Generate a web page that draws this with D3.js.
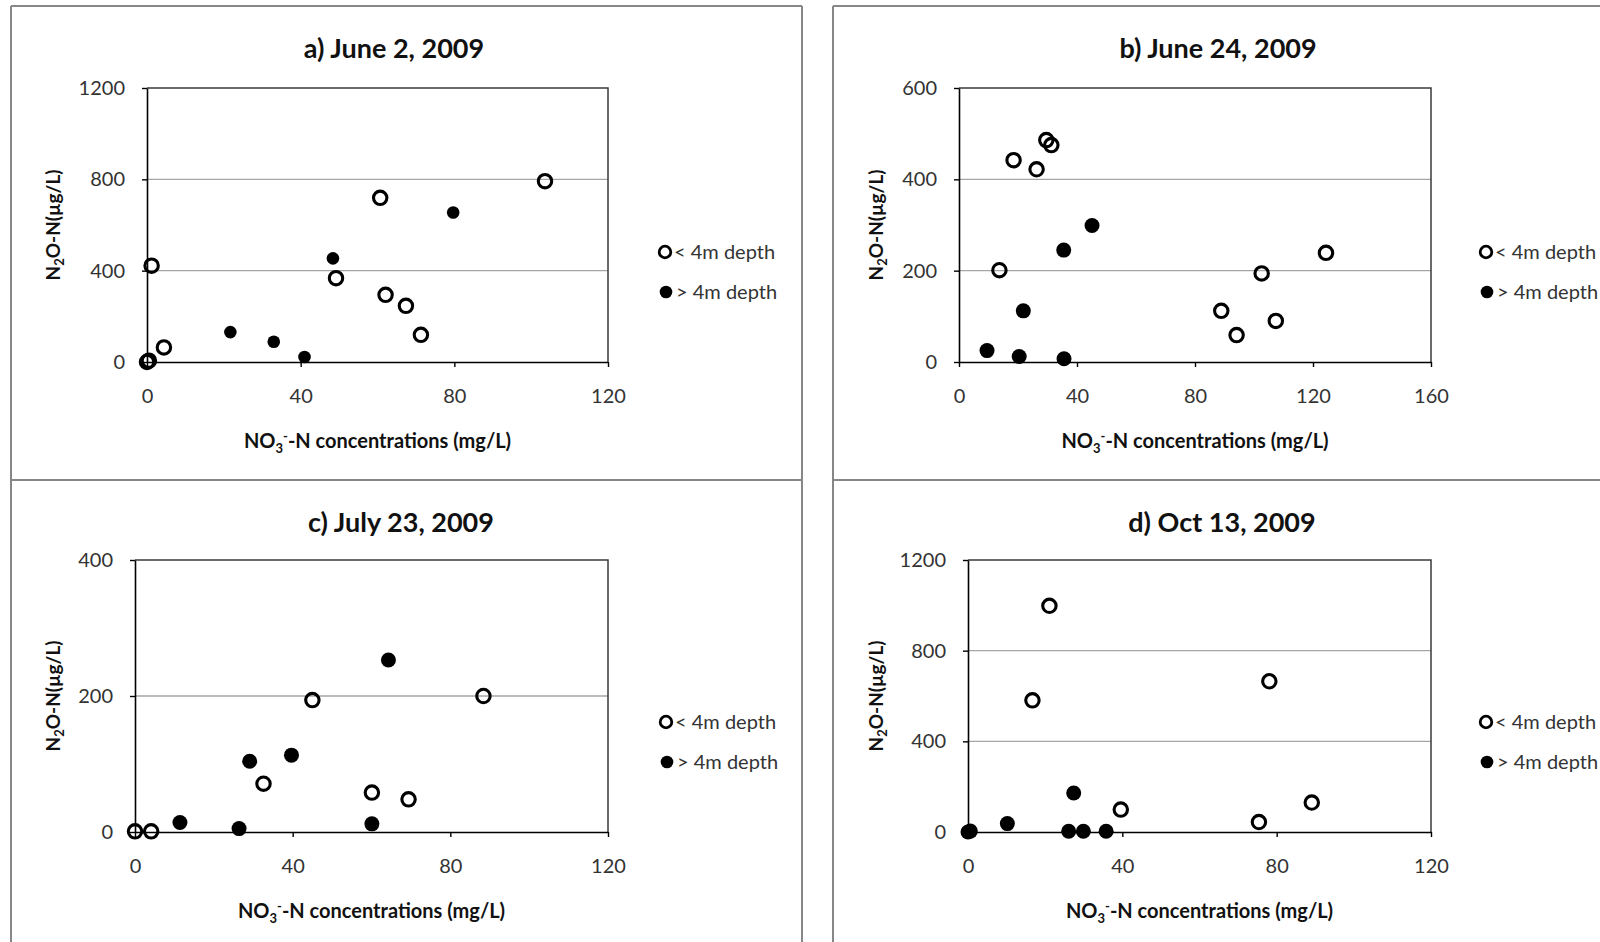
<!DOCTYPE html>
<html>
<head>
<meta charset="utf-8">
<script src="https://cdn.jsdelivr.net/npm/d3@7"></script>
<style>
  body { margin: 0; background: #fff; }
  svg { display: block; font-family: Lato, "Liberation Sans", sans-serif; }
</style>
</head>
<body>
<svg id="chart" width="1600" height="942"></svg>
<script>
// Sampling-date titles and legend entries
const titles = ["a) June 2, 2009", "b) June 24, 2009", "c) July 23, 2009", "d) Oct 13, 2009"];
const seriesNames = ["< 4m depth", "> 4m depth"];

// Axis ticks per panel
const xTicksA = [0, 40, 80, 120];
const yTicksA = [0, 400, 800, 1200];
const xTicksB = [0, 40, 80, 120, 160];
const yTicksB = [0, 200, 400, 600];
const xTicksC = [0, 40, 80, 120];
const yTicksC = [0, 200, 400];
const xTicksD = [0, 40, 80, 120];
const yTicksD = [0, 400, 800, 1200];

// [NO3-N (mg/L), N2O-N (µg/L)] — shallow wells (< 4 m) and deep wells (> 4 m)
const shallowA = [[0, 0], [0.5, 6], [1.2, 422], [4.4, 64], [49.2, 367], [60.7, 719], [62.1, 294], [67.4, 246], [71.3, 119], [103.6, 792]];
const deepA = [[21.7, 131], [33.0, 89], [41.0, 22], [48.4, 454], [79.7, 655]];

const shallowB = [[13.7, 201], [18.5, 442], [26.3, 422], [29.6, 486], [31.3, 475], [88.9, 112], [94.1, 59], [102.6, 194], [107.4, 90], [124.4, 239]];
const deepB = [[9.5, 25], [20.4, 12], [21.8, 112], [35.5, 245], [35.6, 7], [45.1, 299]];

const shallowC = [[0, 1], [4.1, 1], [32.6, 71], [45.0, 194], [60.1, 58], [69.4, 48], [88.4, 200]];
const deepC = [[11.4, 14], [26.4, 5], [29.1, 104], [39.7, 113], [60.1, 12], [64.3, 253]];

const shallowD = [[16.7, 581], [21.1, 998], [39.6, 99], [75.4, 44], [78.1, 665], [89.1, 130]];
const deepD = [[0, 0], [0.6, 4], [10.2, 37], [26.1, 3], [27.4, 172], [29.9, 3], [35.8, 3]];

// Panel geometry
const panels = [
  { title: titles[0], shallow: shallowA, deep: deepA, xTicks: xTicksA, yTicks: yTicksA,
    plot: { x0: 147, x1: 608, y0: 88, y1: 362 }, titleX: 394, titleY: 58, yTitleX: 53, legendX: 665, legendY: 252, deepR: 6.3 },
  { title: titles[1], shallow: shallowB, deep: deepB, xTicks: xTicksB, yTicks: yTicksB,
    plot: { x0: 959, x1: 1431, y0: 88, y1: 362 }, titleX: 1218, titleY: 58, yTitleX: 876, legendX: 1486, legendY: 252, deepR: 7.5 },
  { title: titles[2], shallow: shallowC, deep: deepC, xTicks: xTicksC, yTicks: yTicksC,
    plot: { x0: 135, x1: 608, y0: 560, y1: 832 }, titleX: 401, titleY: 532, yTitleX: 53, legendX: 666, legendY: 722, deepR: 7.5 },
  { title: titles[3], shallow: shallowD, deep: deepD, xTicks: xTicksD, yTicks: yTicksD,
    plot: { x0: 968, x1: 1431, y0: 560, y1: 832 }, titleX: 1222, titleY: 532, yTitleX: 876, legendX: 1486, legendY: 722, deepR: 7.5 }
];

const svg = d3.select("#chart");

// Panel frames
const frame = svg.append("g").attr("stroke", "#878787").attr("stroke-width", 2).attr("fill", "none");
frame.append("path").attr("d", "M11,6 H802 M833,6 H1601 M11,6 V943 M802,6 V943 M833,6 V943 M11,480 H802 M833,480 H1601");

panels.forEach(p => {
  const g = svg.append("g");
  const x = d3.scaleLinear().domain([0, d3.max(p.xTicks)]).range([p.plot.x0, p.plot.x1]);
  const y = d3.scaleLinear().domain([0, d3.max(p.yTicks)]).range([p.plot.y1, p.plot.y0]);

  // Horizontal gridlines
  g.append("g").selectAll("line")
    .data(p.yTicks.filter(v => v > 0 && v < d3.max(p.yTicks)))
    .join("line")
    .attr("x1", p.plot.x0).attr("x2", p.plot.x1)
    .attr("y1", d => y(d)).attr("y2", d => y(d))
    .attr("stroke", "#a6a6a6").attr("stroke-width", 1.3);

  // Plot area border (top and right)
  g.append("path")
    .attr("d", `M${p.plot.x0},${p.plot.y0} H${p.plot.x1} V${p.plot.y1}`)
    .attr("fill", "none").attr("stroke", "#3a3a3a").attr("stroke-width", 1.5);

  // X axis
  const xAxis = g.append("g").attr("transform", `translate(0,${p.plot.y1})`)
    .call(d3.axisBottom(x).tickValues(p.xTicks).tickSize(5).tickSizeOuter(0).tickPadding(22).tickFormat(d3.format("d")));
  // Y axis
  const yAxis = g.append("g").attr("transform", `translate(${p.plot.x0},0)`)
    .call(d3.axisLeft(y).tickValues(p.yTicks).tickSize(5).tickSizeOuter(0).tickPadding(17).tickFormat(d3.format("d")));
  [xAxis, yAxis].forEach(a => {
    a.select(".domain").attr("stroke", "#000").attr("stroke-width", 1.6);
    a.selectAll(".tick line").attr("stroke", "#000").attr("stroke-width", 1.4);
    a.selectAll(".tick text").attr("font-size", 20).attr("fill", "#333").attr("font-family", "Lato, sans-serif");
  });

  // Title
  g.append("text").attr("x", p.titleX).attr("y", p.titleY)
    .attr("text-anchor", "middle").attr("font-size", 27).attr("font-weight", "bold").attr("fill", "#111")
    .text(p.title);

  // Y axis title: N2O-N(µg/L)
  const yt = g.append("text")
    .attr("transform", `translate(${p.yTitleX},${(p.plot.y0 + p.plot.y1) / 2}) rotate(-90)`)
    .attr("text-anchor", "middle").attr("dy", "0.35em")
    .attr("font-size", 19).attr("font-weight", "bold").attr("fill", "#111");
  yt.append("tspan").text("N");
  yt.append("tspan").attr("font-size", 13).attr("dy", 4).text("2");
  yt.append("tspan").attr("dy", -4).text("O-N(µg/L)");

  // X axis title: NO3–-N concentrations (mg/L)
  const xt = g.append("text")
    .attr("x", (p.plot.x0 + p.plot.x1) / 2).attr("y", p.plot.y1 + 86)
    .attr("text-anchor", "middle")
    .attr("font-size", 20).attr("font-weight", "bold").attr("fill", "#111");
  xt.append("tspan").text("NO");
  xt.append("tspan").attr("font-size", 13).attr("dy", 5).text("3");
  xt.append("tspan").attr("font-size", 13).attr("dy", -12).text("-");
  xt.append("tspan").attr("dy", 7).text("-N concentrations (mg/L)");

  // Markers
  g.append("g").selectAll("circle")
    .data(p.shallow).join("circle")
    .attr("cx", d => x(d[0])).attr("cy", d => y(d[1])).attr("r", 6.7)
    .attr("fill", "none").attr("stroke", "#000").attr("stroke-width", 3.1);
  g.append("g").selectAll("circle")
    .data(p.deep).join("circle")
    .attr("cx", d => x(d[0])).attr("cy", d => y(d[1])).attr("r", p.deepR)
    .attr("fill", "#000");

  // Legend
  const lg = g.append("g").attr("transform", `translate(${p.legendX},${p.legendY})`);
  lg.append("circle").attr("cx", 0).attr("cy", 0).attr("r", 5.8)
    .attr("fill", "none").attr("stroke", "#000").attr("stroke-width", 2.8);
  lg.append("circle").attr("cx", 1).attr("cy", 40).attr("r", 6.3).attr("fill", "#000");
  lg.selectAll("text").data(seriesNames).join("text")
    .attr("x", (d, i) => 9 + i * 2).attr("y", (d, i) => i * 40).attr("dy", "0.35em")
    .attr("font-size", 20).attr("fill", "#333")
    .text(d => d);
});
</script>
</body>
</html>
